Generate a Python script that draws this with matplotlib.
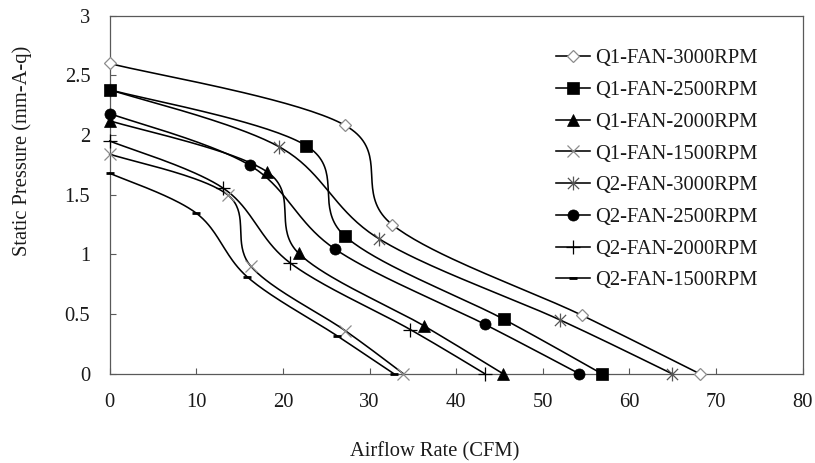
import numpy as np
import matplotlib
matplotlib.use("Agg")
import matplotlib.pyplot as plt
from matplotlib.path import Path
from matplotlib.lines import Line2D
from matplotlib.ticker import FuncFormatter

plt.rcParams['font.family'] = ['Liberation Serif', 'DejaVu Serif']

# Fan curves: airflow (CFM) vs static pressure (mm-Aq)
labels = ["Q1-FAN-3000RPM", "Q1-FAN-2500RPM", "Q1-FAN-2000RPM", "Q1-FAN-1500RPM",
          "Q2-FAN-3000RPM", "Q2-FAN-2500RPM", "Q2-FAN-2000RPM", "Q2-FAN-1500RPM"]

q1_3000_x = [0, 27.2, 32.6, 54.5, 68.1]
q1_3000_y = [2.60, 2.08, 1.25, 0.49, 0.0]
q1_2500_x = [0, 22.7, 27.2, 45.5, 56.8]
q1_2500_y = [2.38, 1.91, 1.15, 0.456, 0.0]
q1_2000_x = [0, 18.2, 21.8, 36.3, 45.4]
q1_2000_y = [2.12, 1.69, 1.01, 0.40, 0.0]
q1_1500_x = [0, 13.6, 16.3, 27.2, 33.9]
q1_1500_y = [1.84, 1.50, 0.90, 0.36, 0.0]
q2_3000_x = [0, 19.6, 31.1, 52.0, 64.9]
q2_3000_y = [2.38, 1.90, 1.13, 0.45, 0.0]
q2_2500_x = [0, 16.2, 26.0, 43.3, 54.2]
q2_2500_y = [2.18, 1.745, 1.045, 0.414, 0.0]
q2_2000_x = [0, 13.1, 20.8, 34.7, 43.3]
q2_2000_y = [1.95, 1.555, 0.93, 0.37, 0.0]
q2_1500_x = [0, 10.0, 15.9, 26.2, 32.8]
q2_1500_y = [1.68, 1.345, 0.81, 0.32, 0.0]

xs = [q1_3000_x, q1_2500_x, q1_2000_x, q1_1500_x, q2_3000_x, q2_2500_x, q2_2000_x, q2_1500_x]
ys = [q1_3000_y, q1_2500_y, q1_2000_y, q1_1500_y, q2_3000_y, q2_2500_y, q2_2000_y, q2_1500_y]

x_ticks = [0, 10, 20, 30, 40, 50, 60, 70, 80]
y_ticks = [0, 0.5, 1, 1.5, 2, 2.5, 3]

# asterisk marker: an x with a vertical bar
star_path = Path([(-0.5, -0.5), (0.5, 0.5), (-0.5, 0.5), (0.5, -0.5), (0, -0.62), (0, 0.62)],
                 [Path.MOVETO, Path.LINETO, Path.MOVETO, Path.LINETO, Path.MOVETO, Path.LINETO])

gray = "#8c8c8c"
styles = [
    dict(marker='D', ms=6.6, mfc='white', mec=gray, mew=0.9),
    dict(marker='s', ms=8.3, mfc='black', mec='black', mew=0.5),
    dict(marker='^', ms=8.5, mfc='black', mec='black', mew=0.5),
    dict(marker='x', ms=9.0, mfc='none', mec=gray, mew=0.9),
    dict(marker=star_path, ms=10.0, mfc='none', mec='#555555', mew=0.9),
    dict(marker='o', ms=8.0, mfc='black', mec='black', mew=0.5),
    dict(marker='+', ms=9.5, mfc='none', mec='black', mew=0.9),
    dict(marker='_', ms=6.0, mfc='none', mec='black', mew=2.0),
]
marker_z = [6, 7, 5, 5, 4, 6, 5, 5]

W, H = 815, 463
fig = plt.figure(figsize=(W / 100, H / 100), dpi=100)
ax = fig.add_axes([109.7 / W, 1 - 373.7 / H, (802.7 - 109.7) / W, (373.7 - 15.7) / H])
ax.set_xlim(0, 80)
ax.set_ylim(0, 3)

spine_c = "#595959"
for s in ax.spines.values():
    s.set_color(spine_c)
    s.set_linewidth(0.9)
ax.set_xticks(x_ticks)
ax.set_yticks(y_ticks)
ax.yaxis.set_major_formatter(FuncFormatter(lambda v, p: f"{v:g}"))
ax.tick_params(direction='in', length=4.3, width=0.8, color=spine_c, labelsize=14.8,
               pad=14, top=False, right=False, labelcolor='#1a1a1a')


def smooth_curve(x, y, n=40):
    """Spreadsheet-style smoothed line: cubic Bezier segments with
    Catmull-Rom tangents, computed in display space."""
    P = ax.transData.transform(np.column_stack([x, y]))
    m = len(P)
    out = [P[0]]
    for i in range(m - 1):
        p0 = P[i - 1] if i > 0 else P[i]
        p1, p2 = P[i], P[i + 1]
        p3 = P[i + 2] if i + 2 < m else P[i + 1]
        d12 = np.hypot(*(p2 - p1))
        d02 = np.hypot(*(p2 - p0))
        d13 = np.hypot(*(p3 - p1))
        f1 = 1 / 6 if d02 == 0 or d02 / 6 < d12 / 2 else d12 / (2 * d02)
        f2 = 1 / 6 if d13 == 0 or d13 / 6 < d12 / 2 else d12 / (2 * d13)
        c1 = p1 + f1 * (p2 - p0)
        c2 = p2 - f2 * (p3 - p1)
        t = np.linspace(0, 1, n)[1:, None]
        seg = ((1 - t) ** 3) * p1 + 3 * ((1 - t) ** 2) * t * c1 + 3 * (1 - t) * t ** 2 * c2 + t ** 3 * p2
        out.extend(seg)
    D = np.array(out)
    return ax.transData.inverted().transform(D).T


handles = []
for x, y, st, lab, z in zip(xs, ys, styles, labels, marker_z):
    sx, sy = smooth_curve(x, y)
    ax.plot(sx, sy, color='black', lw=1.15, zorder=3, clip_on=False)
    ax.plot(x, y, linestyle='none', zorder=z, clip_on=False, **st)
    handles.append(Line2D([], [], color='black', lw=1.15, **st))

leg = ax.legend(handles, labels, loc='upper left',
                bbox_to_anchor=(556 / W, 1 - 49 / H), bbox_transform=fig.transFigure,
                frameon=False, fontsize=14.8, handlelength=1.65, handletextpad=0.25,
                labelspacing=0.6, borderpad=0, borderaxespad=0, numpoints=1)
for t in leg.get_texts():
    t.set_color('#1a1a1a')

fig.text(435 / W, 1 - 451.7 / H, "Airflow Rate (CFM)", ha='center', va='center',
         fontsize=14.8, color='#1a1a1a')
fig.text(21.7 / W, 1 - 151 / H, "Static Pressure (mm-A-q)", ha='center', va='center',
         rotation=90, fontsize=14.8, color='#1a1a1a')

fig.savefig("out.png", dpi=100)
